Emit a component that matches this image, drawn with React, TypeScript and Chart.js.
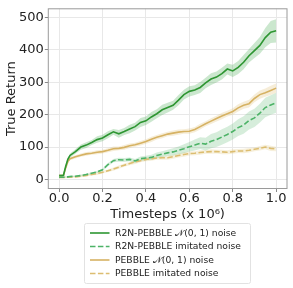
import React, { useEffect, useRef } from "react";
import { Chart, registerables } from "chart.js";

Chart.register(...registerables);

const timesteps = [0, 0.01, 0.02, 0.03, 0.04, 0.05, 0.075, 0.1, 0.125, 0.15, 0.175, 0.2, 0.225, 0.25, 0.275, 0.3, 0.325, 0.35, 0.375, 0.4, 0.425, 0.45, 0.475, 0.5, 0.525, 0.55, 0.575, 0.6, 0.625, 0.65, 0.675, 0.7, 0.725, 0.75, 0.775, 0.8, 0.825, 0.85, 0.875, 0.9, 0.925, 0.95, 0.975, 1.0];

const r2nNormal = [12, 12, 13, 40, 62, 74, 86, 100, 106, 114, 123, 128, 138, 147, 141, 148, 156, 163, 176, 181, 193, 203, 215, 222, 229, 245, 262, 272, 276, 284, 298, 310, 316, 327, 341, 335, 346, 362, 382, 398, 414, 438, 455, 459];
const r2nNormalBand = [3, 3, 3, 5, 6, 6, 7, 8, 9, 8, 10, 10, 11, 9, 12, 11, 13, 12, 14, 13, 15, 14, 16, 15, 14, 16, 15, 16, 15, 17, 16, 18, 17, 18, 17, 19, 20, 22, 21, 23, 26, 30, 34, 36];

const r2nImitated = [7, 7, 7, 8, 8, 9, 10, 12, 15, 19, 23, 30, 46, 58, 61, 60, 62, 57, 64, 66, 68, 74, 78, 82, 85, 90, 95, 101, 106, 112, 109, 118, 123, 131, 139, 148, 160, 168, 182, 190, 205, 222, 230, 237];
const r2nImitatedBand = [2, 2, 2, 2, 2, 2, 2, 3, 3, 3, 3, 4, 5, 5, 6, 6, 6, 6, 7, 7, 8, 9, 9, 10, 11, 12, 14, 15, 17, 18, 20, 22, 23, 24, 24, 25, 26, 27, 28, 28, 29, 30, 30, 31];

const pebbleNormal = [12, 12, 13, 35, 55, 64, 70, 75, 79, 81, 84, 86, 90, 95, 96, 99, 104, 107, 112, 117, 124, 130, 135, 140, 143, 146, 148, 149, 154, 163, 172, 180, 188, 196, 203, 210, 221, 229, 234, 250, 262, 268, 275, 282];
const pebbleNormalBand = [3, 3, 3, 4, 5, 5, 5, 5, 6, 5, 6, 6, 6, 7, 6, 7, 7, 6, 7, 7, 8, 7, 8, 7, 8, 8, 7, 8, 8, 9, 8, 9, 9, 10, 9, 10, 11, 11, 12, 12, 13, 13, 14, 14];

const pebbleImitated = [6, 6, 6, 6, 7, 7, 8, 10, 12, 15, 18, 22, 27, 32, 38, 44, 49, 54, 58, 62, 64, 66, 67, 67, 70, 74, 77, 80, 81, 83, 85, 86, 86, 85, 84, 86, 88, 88, 90, 93, 96, 100, 96, 94];
const pebbleImitatedBand = [2, 2, 2, 2, 2, 2, 3, 3, 3, 3, 4, 4, 4, 5, 5, 5, 5, 6, 5, 6, 6, 5, 6, 6, 6, 6, 7, 6, 6, 7, 6, 7, 6, 7, 6, 7, 6, 7, 7, 6, 7, 7, 8, 7];

const xTicks = [0, 0.2, 0.4, 0.6, 0.8, 1.0];
const yTicks = [0, 100, 200, 300, 400, 500];

const legendLabels = [
  "R2N-PEBBLE 𝒩(0, 1) noise",
  "R2N-PEBBLE imitated noise",
  "PEBBLE 𝒩(0, 1) noise",
  "PEBBLE imitated noise",
];

const FONT = "'DejaVu Sans', sans-serif";

const series = [
  { label: legendLabels[0], mean: r2nNormal, band: r2nNormalBand, color: "#2e9632", fill: "rgba(70,170,80,0.28)", dash: [] as number[] },
  { label: legendLabels[1], mean: r2nImitated, band: r2nImitatedBand, color: "#4db367", fill: "rgba(90,185,110,0.25)", dash: [5.5, 2.4] },
  { label: legendLabels[2], mean: pebbleNormal, band: pebbleNormalBand, color: "#d6b263", fill: "rgba(225,195,125,0.3)", dash: [] as number[] },
  { label: legendLabels[3], mean: pebbleImitated, band: pebbleImitatedBand, color: "#dcbd70", fill: "rgba(228,205,140,0.3)", dash: [5.5, 2.4] },
];

export default function App() {
  const ref = useRef<HTMLCanvasElement | null>(null);
  useEffect(() => {
    document.body.style.margin = "0";
    const canvas = ref.current;
    if (!canvas) return;
    const datasets: any[] = [];
    series.forEach((s, i) => {
      datasets.push({
        label: "upper" + i,
        data: timesteps.map((t, k) => ({ x: t, y: s.mean[k] + s.band[k] })),
        borderWidth: 0,
        pointRadius: 0,
        backgroundColor: s.fill,
        fill: "+1",
        order: 20 + i,
      });
      datasets.push({
        label: "lower" + i,
        data: timesteps.map((t, k) => ({ x: t, y: s.mean[k] - s.band[k] })),
        borderWidth: 0,
        pointRadius: 0,
        fill: false,
        order: 20 + i,
      });
    });
    series.forEach((s, i) => {
      datasets.push({
        label: s.label,
        data: timesteps.map((t, k) => ({ x: t, y: s.mean[k] })),
        borderColor: s.color,
        borderWidth: 1.6,
        borderDash: s.dash,
        pointRadius: 0,
        fill: false,
        tension: 0,
        order: [0, 2, 1, 3][i],
      });
    });

    const framePlugin = {
      id: "frame",
      beforeDatasetsDraw(chart: any) {
        const { ctx, chartArea: a } = chart;
        ctx.save();
        ctx.strokeStyle = "#9a9a9a";
        ctx.lineWidth = 1;
        ctx.strokeRect(a.left, a.top, a.right - a.left, a.bottom - a.top);
        ctx.restore();
      },
    };

    const legendPlugin = {
      id: "customLegend",
      afterDraw(chart: any) {
        const ctx = chart.ctx;
        ctx.save();
        const bx = 84.5, by = 223.5, bw = 166, bh = 60;
        ctx.fillStyle = "rgba(255,255,255,0.9)";
        ctx.strokeStyle = "#e2e2e2";
        ctx.lineWidth = 1;
        ctx.beginPath();
        (ctx as any).roundRect ? (ctx as any).roundRect(bx, by, bw, bh, 2) : ctx.rect(bx, by, bw, bh);
        ctx.fill();
        ctx.stroke();
        const rows = [233, 246.5, 260, 273.5];
        series.forEach((s, i) => {
          const y = rows[i];
          ctx.strokeStyle = s.color;
          ctx.lineWidth = 1.6;
          ctx.setLineDash(s.dash);
          ctx.beginPath();
          ctx.moveTo(90, y);
          ctx.lineTo(109.5, y);
          ctx.stroke();
          ctx.setLineDash([]);
          ctx.fillStyle = "#222";
          ctx.font = "9.2px " + FONT;
          ctx.textBaseline = "middle";
          ctx.textAlign = "left";
          ctx.fillText(s.label, 115, y + 0.5);
        });
        ctx.restore();
      },
    };

    const chart = new Chart(canvas, {
      type: "line",
      data: { datasets },
      options: {
        animation: false,
        responsive: false,
        devicePixelRatio: 1,
        layout: { padding: { left: 0, top: 4.5, right: 6, bottom: 65.5 } },
        plugins: {
          legend: { display: false },
          tooltip: { enabled: false },
          filler: { propagate: false },
        },
        scales: {
          x: {
            type: "linear",
            min: -0.05,
            max: 1.05,
            afterBuildTicks: (s: any) => {
              s.ticks = xTicks.map((v) => ({ value: v }));
            },
            afterFit: (s: any) => {
              s.height = 34;
            },
            ticks: {
              callback: (v: any) => Number(v).toFixed(1),
              font: { size: 13, family: FONT },
              color: "#222",
              padding: -1,
              maxRotation: 0,
              autoSkip: false,
            },
            grid: { color: "#e8e8e8", lineWidth: 1, tickLength: 3.5, tickColor: "#8a8a8a" },
            border: { display: false },
            title: {
              display: true,
              text: "Timesteps (x 10⁶)",
              font: { size: 13, family: FONT },
              color: "#222",
              padding: { top: 0, bottom: 0 },
            },
          },
          y: {
            type: "linear",
            min: -28,
            max: 527,
            afterBuildTicks: (s: any) => {
              s.ticks = yTicks.map((v) => ({ value: v }));
            },
            afterFit: (s: any) => {
              s.width = 48.3;
            },
            ticks: {
              font: { size: 13, family: FONT },
              color: "#222",
              padding: 1,
            },
            grid: { color: "#e8e8e8", lineWidth: 1, tickLength: 3.5, tickColor: "#8a8a8a" },
            border: { display: false },
            title: {
              display: true,
              text: "True Return",
              font: { size: 13, family: FONT },
              color: "#222",
              padding: { top: 4, bottom: 0 },
            },
          },
        },
      },
      plugins: [framePlugin, legendPlugin],
    });
    return () => chart.destroy();
  }, []);

  return (
    <div style={{ position: "absolute", left: 0, top: 0, width: 293, height: 288, background: "#fff" }}>
      <canvas ref={ref} width={293} height={288} style={{ width: 293, height: 288, display: "block" }} />
    </div>
  );
}
